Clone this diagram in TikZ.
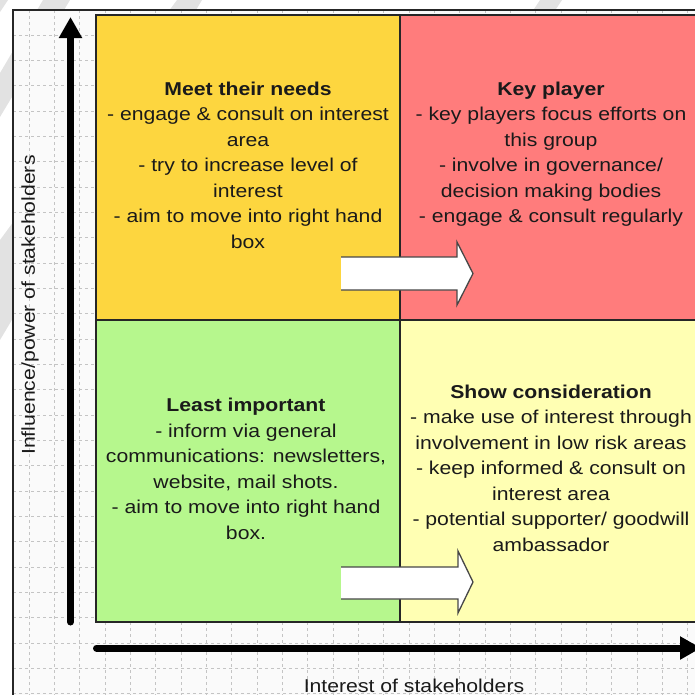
\documentclass[tikz,border=0pt]{standalone}
\usepackage{fontspec}
\setmainfont{Liberation Sans}[FakeStretch=1.14]
\usetikzlibrary{arrows.meta}
\definecolor{qyellow}{HTML}{FDD63F}
\definecolor{qred}{HTML}{FF7C7C}
\definecolor{qgreen}{HTML}{B6F78D}
\definecolor{qlight}{HTML}{FFFFB3}
\definecolor{gridc}{HTML}{C4C4C4}
\definecolor{bgc}{HTML}{FAFAFA}
\definecolor{bandc}{HTML}{E2E2E2}
\definecolor{edgec}{HTML}{262626}
\definecolor{txt}{HTML}{1A1A1A}
\begin{document}
\begin{tikzpicture}[x=1pt,y=-1pt,
  quad/.style={draw=edgec,line width=1.5pt},
  qtext/.style={align=center,inner sep=0pt,anchor=north,text=txt,font=\fontsize{18.6}{25.5}\selectfont},
  axlabel/.style={text=txt,inner sep=0pt,font=\fontsize{18.6}{22}\selectfont},
  axis/.style={line width=7pt,line cap=round,-{Triangle[width=22pt,length=21pt]}},
  blockfill/.style={fill=white},
  blockedge/.style={draw=edgec!85,line width=1.3pt,line join=miter}]
\useasboundingbox (0,0) rectangle (695,694);
% watermark bands (only visible in the margins)
\fill[bandc] (-30,0) -- (8,0) -- (-12,30) -- (-50,30) -- cycle;
\fill[bandc] (43,0) -- (70,0) -- (0,117) -- (0,73) -- cycle;
\fill[bandc] (177,0) -- (202,0) -- (0,340) -- (0,240) -- cycle;
\fill[bandc] (540,0) -- (562,0) -- (62,750) -- (40,750) -- cycle;
% frame background and grid
\fill[bgc] (13,10) rectangle (700,700);
\begin{scope}
  \clip (13,10) rectangle (700,700);
  \foreach \i in {0,...,28} {
    \draw[gridc,line width=0.7pt,dash pattern=on 3pt off 3pt] (3.67+25.33*\i,10) -- (3.67+25.33*\i,700);
    \draw[gridc,line width=0.7pt,dash pattern=on 3pt off 3pt] (13,9.67+25.33*\i) -- (700,9.67+25.33*\i);
  }
\end{scope}
\draw[edgec,line width=1.5pt] (13,700) -- (13,10) -- (700,10);
% quadrants
\draw[quad,fill=qyellow] (96,15) rectangle (400,320);
\draw[quad,fill=qred] (400,15) rectangle (710,320);
\draw[quad,fill=qgreen] (96,320) rectangle (400,622);
\draw[quad,fill=qlight] (400,320) rectangle (710,622);
% quadrant texts
\node[qtext] (tl) at (248,81.5) {\textbf{Meet their needs}\\- engage \& consult on interest\\area\\- try to increase level of\\interest\\- aim to move into right hand\\box};
\node[qtext] (tr) at (551,81.5) {\textbf{Key player}\\- key players focus efforts on\\this group\\- involve in governance/\\decision making bodies\\- engage \& consult regularly};
\node[qtext] (bl) at (246,398) {\textbf{Least important}\\- inform via general\\communications: newsletters,\\website, mail shots.\\- aim to move into right hand\\box.};
\node[qtext] (br) at (551,384.5) {\textbf{Show consideration}\\- make use of interest through\\involvement in low risk areas\\- keep informed \& consult on\\interest area\\- potential supporter/ goodwill\\ambassador};
% block arrows
\fill[blockfill] (341,257) -- (457,257) -- (457,242) -- (473,273.5) -- (457,305) -- (457,290) -- (341,290) -- cycle;
\draw[blockedge] (341,257) -- (457,257) -- (457,242) -- (473,273.5) -- (457,305) -- (457,290) -- (341,290);
\fill[blockfill] (341,567) -- (458,567) -- (458,551) -- (473,582) -- (458,613) -- (458,599) -- (341,599) -- cycle;
\draw[blockedge] (341,567) -- (458,567) -- (458,551) -- (473,582) -- (458,613) -- (458,599) -- (341,599);
% axes
\coordinate (ybot) at (70.5,622);
\coordinate (ytop) at (70.5,17);
\coordinate (xleft) at (96.5,648);
\coordinate (xright) at (701,648);
\draw[axis] (ybot) -- (ytop);
\draw[axis] (xleft) -- (xright);
\node[axlabel,rotate=90] (ylab) at (30,305) {Influence/power of stakeholders};
\node[axlabel] (xlab) at (414,686.2) {Interest of stakeholders};
\end{tikzpicture}
\end{document}
